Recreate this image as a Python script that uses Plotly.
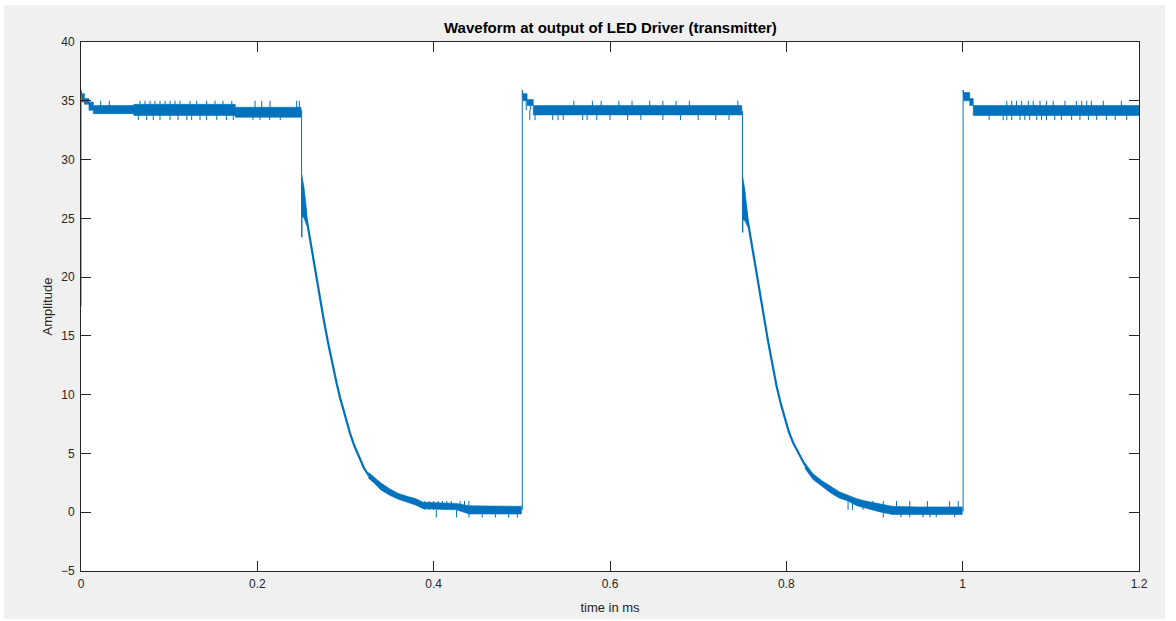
import plotly.graph_objects as go

BLUE = "#0072BD"
AX = "#262626"

# ---------------- data (time in ms, amplitude) ----------------
# vertical edges / fast transitions
edge_t = [0.0, 0.0, 0.0015, None, 0.2495, 0.2502, 0.2502, 0.2504, 0.2508, None,
          0.4995, 0.5005, 0.5005, 0.502, None, 0.7495, 0.7502, 0.7502, 0.7505, 0.7508, None,
          0.9995, 1.0005, 1.0005, 1.002]
edge_v = [17.5, 35.9, 35.3, None, 34.2, 34.2, 28.8, 23.4, 27.8, None,
          0.2, 0.2, 35.9, 35.3, None, 34.1, 34.1, 28.7, 23.8, 27.6, None,
          0.1, 0.1, 35.9, 35.3]

# decay curves (centre values)
dec1_t = [0.2508, 0.2530, 0.2560, 0.2610, 0.2654, 0.2700, 0.2750, 0.2800, 0.2843, 0.2900,
          0.2938, 0.3000, 0.3050, 0.3100, 0.3165, 0.3210, 0.3265]
dec1_v = [27.8, 26.3, 24.9, 22.6, 20.6, 18.6, 16.5, 14.5, 12.9, 10.95,
          9.75, 8.0, 6.75, 5.65, 4.45, 3.75, 3.1]
dec2_t = [0.7508, 0.7530, 0.7560, 0.7607, 0.7654, 0.7701, 0.7750, 0.7796, 0.7843, 0.7890,
          0.7940, 0.7985, 0.8030, 0.8080, 0.8130, 0.8174, 0.8215]
dec2_v = [27.6, 26.2, 24.9, 22.9, 20.8, 18.6, 16.45, 14.4, 12.5, 10.7,
          9.15, 7.85, 6.8, 5.86, 5.1, 4.44, 3.95]

# noisy bands (upper / lower envelope)
hp1_t = [0.0005, 0.004, 0.004, 0.009, 0.009, 0.014, 0.014, 0.060, 0.060, 0.175, 0.175, 0.2495]
hp1_hi = [35.6, 35.6, 35.2, 35.2, 34.9, 34.9, 34.6, 34.6, 34.7, 34.7, 34.45, 34.45]
hp1_lo = [34.9, 34.9, 34.7, 34.7, 34.2, 34.2, 33.9, 33.9, 33.75, 33.75, 33.6, 33.6]

hp2_t = [0.5008, 0.506, 0.506, 0.513, 0.513, 0.7495]
hp2_hi = [35.6, 35.6, 35.1, 35.1, 34.6, 34.6]
hp2_lo = [35.0, 35.0, 34.6, 34.6, 33.8, 33.8]

hp3_t = [1.0008, 1.008, 1.008, 1.012, 1.012, 1.2]
hp3_hi = [35.7, 35.7, 35.2, 35.2, 34.6, 34.6]
hp3_lo = [35.0, 35.0, 34.6, 34.6, 33.75, 33.75]

wd1_t = [0.2502, 0.2530, 0.2560]
wd1_hi = [28.8, 27.6, 25.6]
wd1_lo = [25.2, 25.0, 24.4]
wd2_t = [0.7502, 0.7530, 0.7560]
wd2_hi = [28.7, 27.4, 25.4]
wd2_lo = [24.9, 24.8, 24.3]

tl1_t = [0.326, 0.333, 0.340, 0.350, 0.360, 0.370, 0.380, 0.388, 0.400, 0.426, 0.440, 0.470, 0.4995]
tl1_hi = [3.4, 2.95, 2.5, 2.0, 1.6, 1.35, 1.15, 0.85, 0.8, 0.75, 0.55, 0.5, 0.5]
tl1_lo = [2.9, 2.45, 1.9, 1.45, 1.1, 0.85, 0.6, 0.3, 0.25, 0.2, -0.15, -0.15, -0.15]

tl2_t = [0.821, 0.830, 0.840, 0.850, 0.860, 0.870, 0.880, 0.890, 0.905, 0.920, 0.950, 0.9995]
tl2_hi = [4.2, 3.3, 2.7, 2.2, 1.75, 1.45, 1.15, 0.95, 0.7, 0.5, 0.45, 0.45]
tl2_lo = [3.75, 2.8, 2.2, 1.65, 1.2, 0.95, 0.55, 0.35, 0.05, -0.2, -0.2, -0.2]

# spikes (time) on the high plateaus
up1_t = [0.0223, 0.0321, 0.0669, 0.0726, 0.0783, 0.0839, 0.0896, 0.0953, 0.101, 0.1066,
         0.1123, 0.1236, 0.1312, 0.1425, 0.152, 0.161, 0.171, 0.1974, 0.205, 0.2143, 0.2446, 0.2476]
dn1_t = [0.065, 0.0745, 0.082, 0.0896, 0.101, 0.110, 0.120, 0.1255, 0.135, 0.1425,
         0.154, 0.165, 0.1727, 0.195, 0.203, 0.214, 0.226]
up2_t = [0.505, 0.510, 0.559, 0.580, 0.590, 0.610, 0.625, 0.645, 0.660, 0.675, 0.690, 0.745]
dn2_t = [0.509, 0.515, 0.535, 0.541, 0.547, 0.569, 0.574, 0.585, 0.600, 0.620, 0.635,
         0.660, 0.680, 0.700, 0.720, 0.735]
up3_t = [1.050, 1.0556, 1.061, 1.067, 1.0745, 1.080, 1.0877, 1.095, 1.1027, 1.116, 1.129,
         1.135, 1.1407, 1.146, 1.1595, 1.180]
dn3_t = [1.030, 1.046, 1.050, 1.0556, 1.065, 1.0705, 1.076, 1.084, 1.0895, 1.095, 1.1045,
         1.112, 1.1236, 1.133, 1.1426, 1.152, 1.163, 1.173, 1.186]
hi_base, hi_top, hi_bottom = 34.2, 35.0, 33.35

# spikes on the low plateaus
lup1_t = [0.390, 0.395, 0.400, 0.405, 0.410, 0.415, 0.420, 0.430, 0.435, 0.440]
ldn1_t = [0.403, 0.426, 0.440, 0.455, 0.470, 0.485, 0.495]
lup2_t = [0.870, 0.875, 0.887, 0.898, 0.910, 0.925, 0.940, 0.960, 0.985, 0.995]
ldn2_t = [0.910, 0.930, 0.940, 0.955, 0.963, 0.970, 0.991]
lo_base, lo_top, lo_bottom = 0.2, 0.95, -0.45

x_ticks = [0, 0.2, 0.4, 0.6, 0.8, 1.0, 1.2]
x_labels = ["0", "0.2", "0.4", "0.6", "0.8", "1", "1.2"]
y_ticks = [-5, 0, 5, 10, 15, 20, 25, 30, 35, 40]

# ---------------- figure ----------------
fig = go.Figure()


def band(t, hi, lo):
    fig.add_trace(go.Scatter(x=list(t) + list(t)[::-1], y=list(hi) + list(lo)[::-1],
                             mode="lines", fill="toself", fillcolor=BLUE,
                             line=dict(color=BLUE, width=0.6), hoverinfo="skip",
                             showlegend=False))


def spikes(ts, base, end):
    xs, ys = [], []
    for t in ts:
        xs += [t, t, None]
        ys += [base, end, None]
    fig.add_trace(go.Scatter(x=xs, y=ys, mode="lines", line=dict(color=BLUE, width=1),
                             hoverinfo="skip", showlegend=False))


for t, hi, lo in [(hp1_t, hp1_hi, hp1_lo), (hp2_t, hp2_hi, hp2_lo), (hp3_t, hp3_hi, hp3_lo),
                  (wd1_t, wd1_hi, wd1_lo), (wd2_t, wd2_hi, wd2_lo),
                  (tl1_t, tl1_hi, tl1_lo), (tl2_t, tl2_hi, tl2_lo)]:
    band(t, hi, lo)

for ts in (up1_t, up2_t, up3_t):
    spikes(ts, hi_base, hi_top)
for ts in (dn1_t, dn2_t, dn3_t):
    spikes(ts, hi_base, hi_bottom)
for ts in (lup1_t, lup2_t):
    spikes(ts, lo_base, lo_top)
for ts in (ldn1_t, ldn2_t):
    spikes(ts, lo_base, lo_bottom)

for t, v in [(dec1_t, dec1_v), (dec2_t, dec2_v)]:
    fig.add_trace(go.Scatter(x=t, y=v, mode="lines", line=dict(color=BLUE, width=2.2),
                             hoverinfo="skip", showlegend=False))

fig.add_trace(go.Scatter(x=edge_t, y=edge_v, mode="lines", line=dict(color=BLUE, width=1),
                         connectgaps=False, hoverinfo="skip", showlegend=False))

L, R, T, B = 81, 37, 42, 50
W, H = 1176, 621
pw, ph = W - L - R, H - T - B


def px(x):
    return (x - L) / pw


def py(y):
    return (H - B - y) / ph


shapes = []
for x0, y0, x1, y1 in [(0, 0, 4, H), (0, 0, W, 5), (1165, 0, W, H), (0, 619, W, H)]:
    shapes.append(dict(type="rect", xref="paper", yref="paper",
                       x0=px(x0), x1=px(x1), y0=py(y1), y1=py(y0),
                       fillcolor="white", line=dict(width=0), layer="above"))

axis_common = dict(showline=True, linecolor=AX, linewidth=1, mirror="ticks",
                   ticks="inside", ticklen=10, tickwidth=1, tickcolor=AX,
                   showgrid=False, zeroline=False, automargin=False,
                   tickfont=dict(family="Liberation Sans, Arial", size=12, color=AX))

fig.update_layout(
    width=W, height=H, autosize=False,
    margin=dict(l=L, r=R, t=T, b=B, pad=0),
    paper_bgcolor="#f0f0f0", plot_bgcolor="white",
    shapes=shapes,
    xaxis=dict(range=[0, 1.2], tickvals=x_ticks, ticktext=x_labels, ticklabelstandoff=2,
               title=dict(text="time in ms", standoff=12,
                          font=dict(family="Liberation Sans, Arial", size=13, color=AX)),
               **axis_common),
    yaxis=dict(range=[-5, 40], tickvals=y_ticks, ticklabelstandoff=3,
               title=dict(text="Amplitude", standoff=5,
                          font=dict(family="Liberation Sans, Arial", size=13, color=AX)),
               **axis_common),
    annotations=[dict(text="<b>Waveform at output of LED Driver (transmitter)</b>",
                      xref="paper", yref="paper", x=0.5, y=py(28), xanchor="center",
                      yanchor="middle", showarrow=False,
                      font=dict(family="Liberation Sans, Arial", size=15, color="black"))],
)

fig.write_html("out.html")
